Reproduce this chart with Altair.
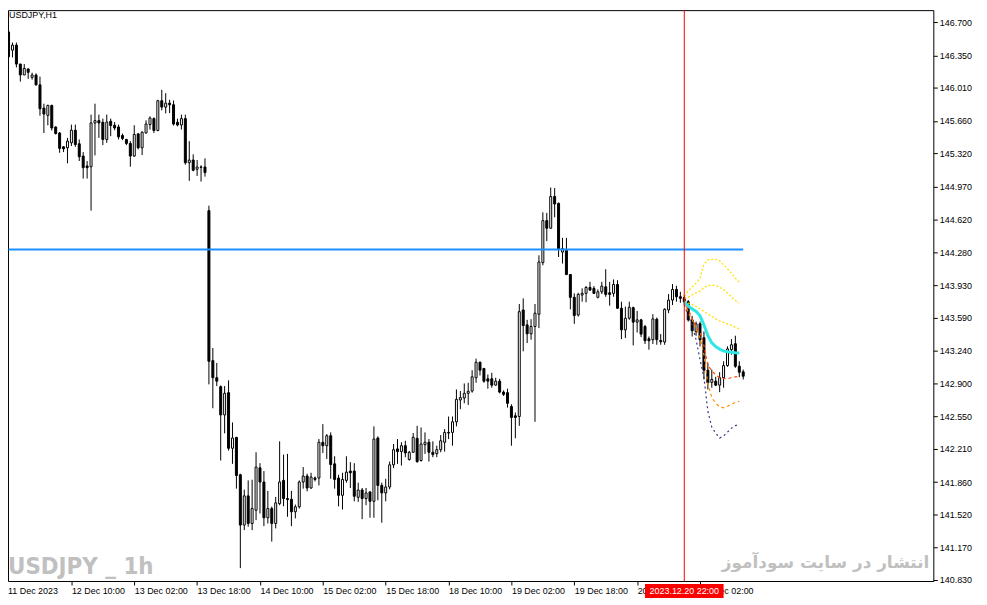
import altair as alt
import pandas as pd

# ---------------- data (USDJPY H1 candles, bar 0 = 11 Dec 2023) ----------------
opens = [
    146.596, 146.404, 146.457, 146.258, 146.143, 146.206, 146.118, 146.143, 146.039, 145.795,
    145.718, 145.823, 145.596, 145.533, 145.387, 145.377, 145.429, 145.562, 145.419, 145.290,
    145.186, 145.178, 145.638, 145.663, 145.645, 145.465, 145.656, 145.614, 145.596, 145.506,
    145.465, 145.423, 145.290, 145.523, 145.377, 145.533, 145.621, 145.684, 145.559, 145.872,
    145.805, 145.847, 145.830, 145.645, 145.617, 145.684, 145.220, 145.248, 145.151, 145.175,
    145.175, 144.716, 143.138, 142.958, 142.864, 142.567, 142.801, 142.216, 142.331, 141.937,
    141.408, 141.715, 141.425, 141.564, 142.010, 141.861, 141.485, 141.582, 141.425, 141.634,
    141.878, 141.687, 141.679, 141.548, 141.600, 141.861, 141.924, 141.798, 141.903, 141.903,
    142.279, 142.243, 142.348, 142.052, 141.903, 141.721, 141.878, 141.976, 141.976, 141.700,
    141.777, 141.687, 141.757, 141.658, 142.324, 141.825, 141.746, 141.809, 142.042, 142.209,
    142.181, 142.243, 142.097, 142.174, 142.321, 142.087, 142.254, 142.279, 142.174, 142.160,
    142.201, 142.279, 142.383, 142.383, 142.494, 142.724, 142.745, 142.794, 142.818, 142.958,
    143.121, 143.055, 142.947, 142.947, 142.880, 142.922, 142.807, 142.801, 142.655, 142.557,
    142.550, 143.671, 143.514, 143.420, 143.497, 143.626, 144.169, 144.611, 144.531, 144.865,
    144.792, 144.280, 144.298, 144.044, 143.804, 143.619, 143.828, 143.846, 143.908, 143.898,
    143.804, 143.862, 143.914, 143.852, 143.846, 143.939, 143.689, 143.462, 143.584, 143.695,
    143.543, 143.567, 143.497, 143.368, 143.358, 143.574, 143.350, 143.334, 143.671, 143.775,
    143.887, 143.810, 143.800, 143.758, 143.567, 143.444, 143.525, 143.379, 143.037, 142.909,
    142.922, 142.880, 142.958, 143.086, 143.253, 143.316, 143.079, 143.020,
]
highs = [
    146.617, 146.484, 146.484, 146.261, 146.258, 146.212, 146.167, 146.160, 146.126, 145.841,
    145.830, 145.830, 145.603, 145.541, 145.395, 145.481, 145.621, 145.621, 145.465, 145.332,
    145.238, 145.726, 145.841, 145.726, 145.684, 145.726, 145.684, 145.648, 145.621, 145.527,
    145.468, 145.447, 145.614, 145.533, 145.551, 145.666, 145.708, 145.697, 145.882, 145.987,
    145.951, 145.882, 145.875, 145.684, 145.726, 145.726, 145.447, 145.308, 145.248, 145.193,
    145.266, 144.768, 143.271, 143.114, 142.877, 142.870, 142.930, 142.488, 142.334, 141.948,
    141.781, 141.878, 141.885, 142.174, 142.059, 141.976, 141.767, 141.603, 141.704, 142.289,
    142.149, 142.157, 141.767, 141.624, 141.878, 142.018, 141.948, 141.958, 141.919, 142.313,
    142.470, 142.365, 142.383, 142.132, 141.937, 141.958, 142.132, 142.070, 142.059, 141.854,
    141.798, 141.798, 141.760, 142.446, 142.341, 141.854, 141.895, 142.076, 142.261, 142.313,
    142.279, 142.295, 142.188, 142.376, 142.452, 142.435, 142.383, 142.313, 142.289, 142.243,
    142.355, 142.418, 142.550, 142.550, 142.835, 142.818, 142.898, 142.905, 143.037, 143.159,
    143.128, 143.062, 142.992, 143.010, 142.958, 142.947, 142.825, 142.843, 142.679, 142.592,
    143.734, 143.793, 143.567, 143.574, 143.734, 144.246, 144.698, 144.692, 144.959, 144.953,
    144.802, 144.430, 144.430, 144.047, 143.846, 143.852, 143.898, 143.922, 143.967, 143.922,
    143.887, 143.967, 144.099, 143.967, 143.992, 143.984, 143.758, 143.706, 143.758, 143.706,
    143.661, 143.577, 143.514, 143.392, 143.626, 143.591, 143.417, 143.689, 143.838, 143.943,
    143.925, 143.862, 143.828, 143.775, 143.608, 143.549, 143.549, 143.444, 143.114, 143.044,
    142.968, 143.016, 143.131, 143.288, 143.365, 143.400, 143.131, 143.044,
]
lows = [
    146.314, 146.327, 146.223, 146.073, 146.143, 146.102, 146.094, 146.032, 145.715, 145.533,
    145.614, 145.559, 145.517, 145.325, 145.332, 145.214, 145.395, 145.387, 145.238, 145.053,
    145.053, 144.716, 145.297, 145.481, 145.405, 145.429, 145.499, 145.562, 145.465, 145.457,
    145.405, 145.178, 145.283, 145.360, 145.301, 145.527, 145.569, 145.533, 145.551, 145.771,
    145.739, 145.742, 145.611, 145.603, 145.569, 145.199, 145.029, 145.130, 145.081, 145.022,
    145.074, 142.888, 142.637, 142.870, 142.087, 142.373, 142.191, 142.052, 141.791, 140.955,
    141.355, 141.391, 141.355, 141.460, 141.530, 141.397, 141.425, 141.234, 141.373, 141.617,
    141.606, 141.495, 141.397, 141.478, 141.582, 141.791, 141.763, 141.791, 141.867, 141.825,
    142.167, 142.104, 141.895, 141.791, 141.606, 141.572, 141.854, 141.798, 141.658, 141.652,
    141.470, 141.617, 141.485, 141.485, 141.669, 141.433, 141.658, 141.784, 142.007, 142.052,
    142.034, 142.122, 142.087, 142.167, 142.063, 142.076, 142.157, 142.076, 142.122, 142.122,
    142.174, 142.181, 142.313, 142.243, 142.446, 142.627, 142.689, 142.672, 142.801, 142.905,
    142.982, 142.905, 142.843, 142.853, 142.877, 142.794, 142.766, 142.644, 142.243, 142.321,
    142.452, 143.236, 143.323, 143.358, 142.494, 143.480, 144.141, 144.395, 144.524, 144.646,
    144.228, 144.159, 144.037, 143.678, 143.525, 143.601, 143.758, 143.752, 143.873, 143.838,
    143.793, 143.838, 143.810, 143.716, 143.810, 143.682, 143.365, 143.375, 143.567, 143.298,
    143.434, 143.386, 143.313, 143.253, 143.313, 143.305, 143.305, 143.305, 143.637, 143.723,
    143.758, 143.747, 143.723, 143.549, 143.392, 143.400, 143.288, 142.940, 142.835, 142.853,
    142.870, 142.807, 142.853, 143.073, 143.201, 143.062, 142.964, 142.940,
]
closes = [
    146.335, 146.457, 146.258, 146.143, 146.212, 146.171, 146.143, 146.039, 145.788, 145.732,
    145.823, 145.586, 145.527, 145.371, 145.366, 145.447, 145.562, 145.412, 145.283, 145.168,
    145.168, 145.638, 145.663, 145.638, 145.465, 145.648, 145.611, 145.586, 145.492, 145.475,
    145.423, 145.290, 145.517, 145.377, 145.541, 145.627, 145.690, 145.559, 145.872, 145.805,
    145.847, 145.830, 145.627, 145.617, 145.684, 145.220, 145.248, 145.141, 145.175, 145.172,
    145.116, 143.131, 142.958, 142.922, 142.567, 142.794, 142.216, 142.324, 141.930, 141.408,
    141.715, 141.425, 141.582, 142.018, 141.861, 141.485, 141.582, 141.425, 141.642, 141.861,
    141.687, 141.676, 141.548, 141.600, 141.861, 141.924, 141.798, 141.913, 141.888, 142.279,
    142.243, 142.348, 142.045, 141.888, 141.721, 141.888, 141.965, 141.958, 141.711, 141.777,
    141.687, 141.746, 141.658, 142.313, 141.825, 141.746, 141.809, 142.042, 142.201, 142.181,
    142.243, 142.167, 142.174, 142.331, 142.076, 142.261, 142.279, 142.174, 142.149, 142.201,
    142.295, 142.383, 142.376, 142.494, 142.731, 142.749, 142.794, 142.815, 142.968, 143.121,
    143.037, 142.922, 142.922, 142.880, 142.922, 142.807, 142.783, 142.689, 142.540, 142.540,
    143.653, 143.507, 143.420, 143.497, 143.637, 144.176, 144.611, 144.531, 144.865, 144.786,
    144.308, 144.316, 144.044, 143.804, 143.612, 143.835, 143.846, 143.908, 143.880, 143.846,
    143.862, 143.922, 143.835, 143.835, 143.939, 143.689, 143.462, 143.584, 143.699, 143.543,
    143.567, 143.417, 143.347, 143.347, 143.577, 143.358, 143.337, 143.678, 143.775, 143.887,
    143.810, 143.793, 143.755, 143.567, 143.452, 143.525, 143.358, 143.037, 142.905, 142.940,
    142.880, 142.958, 143.086, 143.261, 143.305, 143.079, 143.016, 142.974,
]

# forecast indicator lines (bars 172..186)
fc_bars = list(range(172, 187))
fc_cyan = [143.758, 143.713, 143.682, 143.656, 143.609, 143.514, 143.400, 143.326,
           143.285, 143.259, 143.238, 143.232, 143.227, 143.222, 143.219]
fc_yellow1 = [143.817, 143.869, 143.911, 143.953, 144.005, 144.151, 144.199, 144.204,
              144.204, 144.188, 144.146, 144.105, 144.057, 144.005, 143.963]
fc_yellow2 = [143.791, 143.807, 143.828, 143.849, 143.869, 143.906, 143.927, 143.932,
              143.927, 143.911, 143.885, 143.849, 143.807, 143.770, 143.744]
fc_yellow3 = [143.765, 143.744, 143.728, 143.708, 143.682, 143.656, 143.629, 143.603,
              143.577, 143.556, 143.541, 143.525, 143.509, 143.488, 143.473]
fc_orange1 = [143.765, 143.682, 143.577, 143.504, 143.441, 143.295, 143.086, 143.034,
              142.987, 142.961, 142.950, 142.947, 142.961, 142.968, 142.971]
fc_orange2 = [143.744, 143.650, 143.567, 143.473, 143.379, 143.201, 142.888, 142.752,
              142.689, 142.653, 142.642, 142.658, 142.679, 142.700, 142.710]
fc_navy = [143.723, 143.608, 143.514, 143.358, 143.149, 142.961, 142.606, 142.438,
           142.376, 142.324, 142.345, 142.386, 142.428, 142.454, 142.470]

level_price = 144.308
level_bars = [0, 187]
cross_bar = 172
cross_label = "2023.12.20 22:00"

y_ticks = [146.700, 146.350, 146.010, 145.660, 145.320, 144.970, 144.620, 144.280, 143.930,
           143.590, 143.240, 142.900, 142.550, 142.210, 141.860, 141.520, 141.170, 140.830]
x_tick_bars = [0, 16, 32, 48, 64, 80, 96, 112, 128, 144, 160, 176]
x_tick_labels = ["11 Dec 2023", "12 Dec 10:00", "13 Dec 02:00", "13 Dec 18:00", "14 Dec 10:00",
                 "15 Dec 02:00", "15 Dec 18:00", "18 Dec 10:00", "19 Dec 02:00", "19 Dec 18:00",
                 "20 Dec 10:00", "21 Dec 02:00"]

title_text = "USDJPY,H1"
watermark_text = "USDJPY _ 1h"
persian_text = "انتشار در سایت سودآموز"

# ---------------- layout ----------------
W, H = 932, 575
FONT = "Liberation Sans"
x_scale = alt.Scale(domain=[1.125, 234.125], nice=False, zero=False)
y_scale = alt.Scale(domain=[140.8195, 146.8253], nice=False, zero=False)

label_arr = "[" + ",".join("'%s'" % s for s in x_tick_labels) + "]"
x_axis = alt.Axis(values=x_tick_bars[1:], labelExpr=label_arr + "[round(datum.value/16)]",
                  orient="bottom", title=None, grid=False, domain=False, tickSize=4,
                  tickColor="black", labelAlign="left", labelBaseline="top", labelPadding=2,
                  labelFont=FONT, labelFontSize=9, labelColor="black", labelOverlap=False,
                  labelFlush=False, zindex=0)
y_axis = alt.Axis(values=y_ticks, format=".3f", orient="right", title=None, grid=False,
                  domain=False, tickSize=4, tickColor="black", labelAlign="left",
                  labelBaseline="middle", labelPadding=2, labelFont=FONT, labelFontSize=9,
                  labelColor="black", labelOverlap=False, labelFlush=False, zindex=0)


def X(field):
    return alt.X(field, type="quantitative", scale=x_scale, axis=x_axis)


def Y(field):
    return alt.Y(field, type="quantitative", scale=y_scale, axis=y_axis)


df = pd.DataFrame({"k": list(range(len(opens))), "open": opens, "high": highs,
                   "low": lows, "close": closes})
df["dir"] = ["up" if c >= o else "down" for o, c in zip(opens, closes)]

wicks = alt.Chart(df).mark_rule(color="black", strokeWidth=1, clip=True).encode(
    x=X("k"), y=Y("low"), y2="high")
bodies = alt.Chart(df).mark_bar(size=2, stroke="black", strokeWidth=1, clip=True).encode(
    x=X("k"), y=Y("open"), y2="close",
    fill=alt.Fill("dir:N", scale=alt.Scale(domain=["up", "down"], range=["white", "black"]),
                  legend=None))

layers = [wicks, bodies]

fc_specs = [
    (fc_yellow1, "#ffe000", 1.3, [2, 2]),
    (fc_yellow2, "#ffe000", 1.3, [2, 2]),
    (fc_yellow3, "#ffe000", 1.3, [2, 2]),
    (fc_navy, "#3b3185", 1.2, [2, 3]),
    (fc_orange2, "#ff8c00", 1.2, [3, 3]),
    (fc_orange1, "#ff4500", 1.2, [3, 3]),
    (fc_cyan, "#2ee6e6", 3, None),
]
for vals, col, sw, dash in fc_specs:
    d = pd.DataFrame({"k": fc_bars, "v": vals})
    kw = dict(color=col, strokeWidth=sw, clip=True)
    if dash:
        kw["strokeDash"] = dash
    layers.append(alt.Chart(d).mark_line(**kw).encode(x=X("k"), y=Y("v")))

level_df = pd.DataFrame({"k": level_bars, "v": [level_price] * len(level_bars)})
layers.append(alt.Chart(level_df).mark_line(color="#1e90ff", strokeWidth=2, clip=True)
              .encode(x=X("k"), y=Y("v")))

cross_df = pd.DataFrame({"k": [cross_bar]})
layers.append(alt.Chart(cross_df).mark_rule(color="red", strokeWidth=1).encode(x=X("k")))

lab_df = pd.DataFrame({"k0": [cross_bar - 10], "k1": [cross_bar + 10], "k": [cross_bar],
                       "t": [cross_label]})
layers.append(alt.Chart(lab_df).mark_rect(color="red", clip=False).encode(
    x=X("k0"), x2="k1", y=alt.value(H + 3), y2=alt.value(H + 17)))
layers.append(alt.Chart(lab_df).mark_text(color="white", font=FONT, fontSize=9,
                                          baseline="middle", align="center", clip=False)
              .encode(x=X("k"), y=alt.value(H + 10), text="t:N"))

first_lab = pd.DataFrame({"t": [x_tick_labels[0]]})
layers.append(alt.Chart(first_lab).mark_text(color="black", font=FONT, fontSize=9,
                                             baseline="top", align="left")
              .encode(x=alt.value(0), y=alt.value(H + 6), text="t:N"))

title_df = pd.DataFrame({"t": [title_text]})
layers.append(alt.Chart(title_df).mark_text(color="black", font=FONT, fontSize=9,
                                            baseline="middle", align="left")
              .encode(x=alt.value(1), y=alt.value(4.5), text="t:N"))

wm_df = pd.DataFrame({"t": [watermark_text]})
layers.append(alt.Chart(wm_df).mark_text(
    color="#c0c0c0", font="Liberation Sans Narrow, DejaVu Sans Condensed, Liberation Sans",
    fontSize=24, fontWeight="bold", baseline="alphabetic", align="left")
    .encode(x=alt.value(0), y=alt.value(568), text="t:N"))

fa_df = pd.DataFrame({"t": [persian_text]})
layers.append(alt.Chart(fa_df).mark_text(
    color="#c0c0c0", font="DejaVu Sans", fontSize=17, fontWeight="bold",
    baseline="alphabetic", align="right")
    .encode(x=alt.value(928), y=alt.value(562), text="t:N"))

chart = alt.layer(*layers).properties(
    width=W, height=H,
    autosize=alt.AutoSizeParams(type="none"),
    padding={"left": 0, "top": 0, "right": 46, "bottom": 20},
    background="white",
).configure_view(stroke="black", strokeWidth=1)

chart.save("out.html", embed_options={"renderer": "svg", "actions": False})
